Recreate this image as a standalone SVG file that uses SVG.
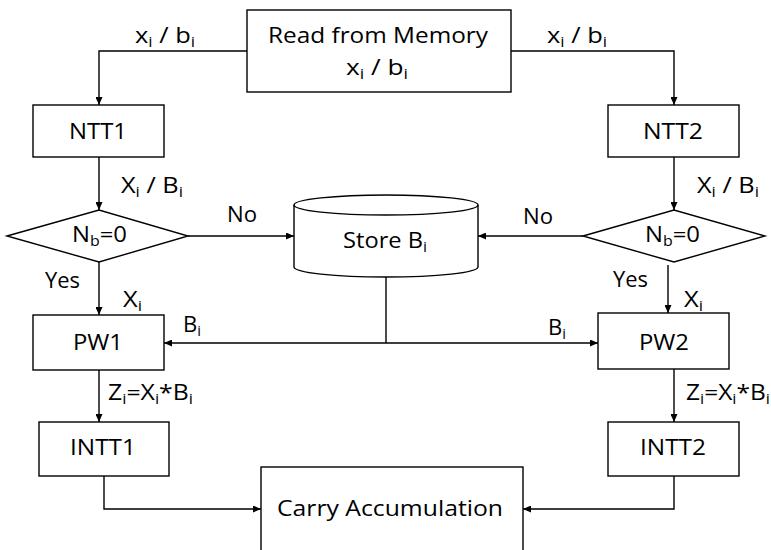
<svg xmlns="http://www.w3.org/2000/svg" width="771" height="550" viewBox="0 0 771 550">
<defs>
<marker id="arr" viewBox="0 0 8 7" refX="8" refY="3.5" markerWidth="8" markerHeight="7" markerUnits="userSpaceOnUse" orient="auto">
<path d="M0,0 L8,3.5 L0,7 z" fill="#000"/>
</marker>
<style>
.n{fill:#fff;stroke:#000;stroke-width:1.4}
.c{fill:none;stroke:#000;stroke-width:1.4}
.a{marker-end:url(#arr)}
text{font-family:"Open Sans","Liberation Sans",sans-serif;font-size:21px;fill:#000}
.s{font-size:14px}
</style>
</defs>
<rect width="771" height="550" fill="#fff"/>
<g id="connectors">
<path class="c a" d="M247,51 H99 V105"/>
<path class="c a" d="M511,51 H674 V105"/>
<path class="c a" d="M99,157 V210"/>
<path class="c a" d="M674,157 V210"/>
<path class="c a" d="M188,236 H294"/>
<path class="c a" d="M583,236 H478"/>
<path class="c a" d="M99,262 V315"/>
<path class="c a" d="M668,265 V313"/>
<path class="c" d="M386,277 V343"/>
<path class="c a" d="M386,343 H164"/>
<path class="c a" d="M386,343 H598"/>
<path class="c a" d="M99,370 V422"/>
<path class="c a" d="M674,369 V422"/>
<path class="c a" d="M104,476 V509 H261"/>
<path class="c a" d="M674,476 V509 H523"/>
<text x="135" y="43" textLength="60" lengthAdjust="spacingAndGlyphs">x<tspan class="s" dy="4">i</tspan><tspan dy="-4"> / b</tspan><tspan class="s" dy="4">i</tspan></text>
<text x="547" y="43" textLength="60" lengthAdjust="spacingAndGlyphs">x<tspan class="s" dy="4">i</tspan><tspan dy="-4"> / b</tspan><tspan class="s" dy="4">i</tspan></text>
<text x="121" y="193" textLength="62" lengthAdjust="spacingAndGlyphs">X<tspan class="s" dy="4">i</tspan><tspan dy="-4"> / B</tspan><tspan class="s" dy="4">i</tspan></text>
<text x="697" y="193" textLength="62" lengthAdjust="spacingAndGlyphs">X<tspan class="s" dy="4">i</tspan><tspan dy="-4"> / B</tspan><tspan class="s" dy="4">i</tspan></text>
<text x="227" y="222" textLength="30" lengthAdjust="spacingAndGlyphs">No</text>
<text x="523" y="224" textLength="30" lengthAdjust="spacingAndGlyphs">No</text>
<text x="45" y="288" textLength="35" lengthAdjust="spacingAndGlyphs">Yes</text>
<text x="613" y="287" textLength="35" lengthAdjust="spacingAndGlyphs">Yes</text>
<text x="123" y="307" textLength="19" lengthAdjust="spacingAndGlyphs">X<tspan class="s" dy="4">i</tspan></text>
<text x="684" y="307" textLength="19" lengthAdjust="spacingAndGlyphs">X<tspan class="s" dy="4">i</tspan></text>
<text x="183" y="332" textLength="18" lengthAdjust="spacingAndGlyphs">B<tspan class="s" dy="4">i</tspan></text>
<text x="548" y="335" textLength="18" lengthAdjust="spacingAndGlyphs">B<tspan class="s" dy="4">i</tspan></text>
<text x="108" y="400" textLength="85" lengthAdjust="spacingAndGlyphs">Z<tspan class="s" dy="4">i</tspan><tspan dy="-4">=X</tspan><tspan class="s" dy="4">i</tspan><tspan dy="-4">*B</tspan><tspan class="s" dy="4">i</tspan></text>
<text x="686" y="400" textLength="84" lengthAdjust="spacingAndGlyphs">Z<tspan class="s" dy="4">i</tspan><tspan dy="-4">=X</tspan><tspan class="s" dy="4">i</tspan><tspan dy="-4">*B</tspan><tspan class="s" dy="4">i</tspan></text>
</g>
<g id="read">
<rect class="n" x="247" y="10" width="264" height="82"/>
<text x="268" y="43" textLength="220" lengthAdjust="spacingAndGlyphs">Read from Memory</text>
<text x="346" y="75" textLength="62" lengthAdjust="spacingAndGlyphs">x<tspan class="s" dy="4">i</tspan><tspan dy="-4"> / b</tspan><tspan class="s" dy="4">i</tspan></text>
</g>
<g id="ntt1">
<rect class="n" x="33" y="105" width="131" height="52"/>
<text x="69" y="139" textLength="58" lengthAdjust="spacingAndGlyphs">NTT1</text>
</g>
<g id="ntt2">
<rect class="n" x="608" y="105" width="131" height="52"/>
<text x="643" y="139" textLength="60" lengthAdjust="spacingAndGlyphs">NTT2</text>
</g>
<g id="dec1">
<polygon class="n" points="7,236 99,210 188,236 99,262"/>
<text x="72" y="242" textLength="55" lengthAdjust="spacingAndGlyphs">N<tspan class="s" dy="4">b</tspan><tspan dy="-4">=0</tspan></text>
</g>
<g id="dec2">
<polygon class="n" points="583,236 674,210 765,236 674,262"/>
<text x="645" y="242" textLength="55" lengthAdjust="spacingAndGlyphs">N<tspan class="s" dy="4">b</tspan><tspan dy="-4">=0</tspan></text>
</g>
<g id="store">
<path class="n" d="M294,205 V267 A92,10 0 0 0 478,267 V205 A92,10 0 0 0 294,205 Z"/>
<path class="c" d="M294,205 A92,10 0 0 0 478,205"/>
<text x="343" y="248" textLength="84" lengthAdjust="spacingAndGlyphs">Store B<tspan class="s" dy="4">i</tspan></text>
</g>
<g id="pw1">
<rect class="n" x="33" y="315" width="131" height="55"/>
<text x="73" y="350" textLength="50" lengthAdjust="spacingAndGlyphs">PW1</text>
</g>
<g id="pw2">
<rect class="n" x="598" y="313" width="131" height="56"/>
<text x="639" y="350" textLength="50" lengthAdjust="spacingAndGlyphs">PW2</text>
</g>
<g id="intt1">
<rect class="n" x="39" y="422" width="130" height="54"/>
<text x="70" y="455" textLength="66" lengthAdjust="spacingAndGlyphs">INTT1</text>
</g>
<g id="intt2">
<rect class="n" x="608" y="422" width="131" height="54"/>
<text x="640" y="455" textLength="66" lengthAdjust="spacingAndGlyphs">INTT2</text>
</g>
<g id="carry">
<rect class="n" x="261" y="467" width="262" height="100"/>
<text x="277" y="516" textLength="226" lengthAdjust="spacingAndGlyphs">Carry Accumulation</text>
</g>
</svg>
